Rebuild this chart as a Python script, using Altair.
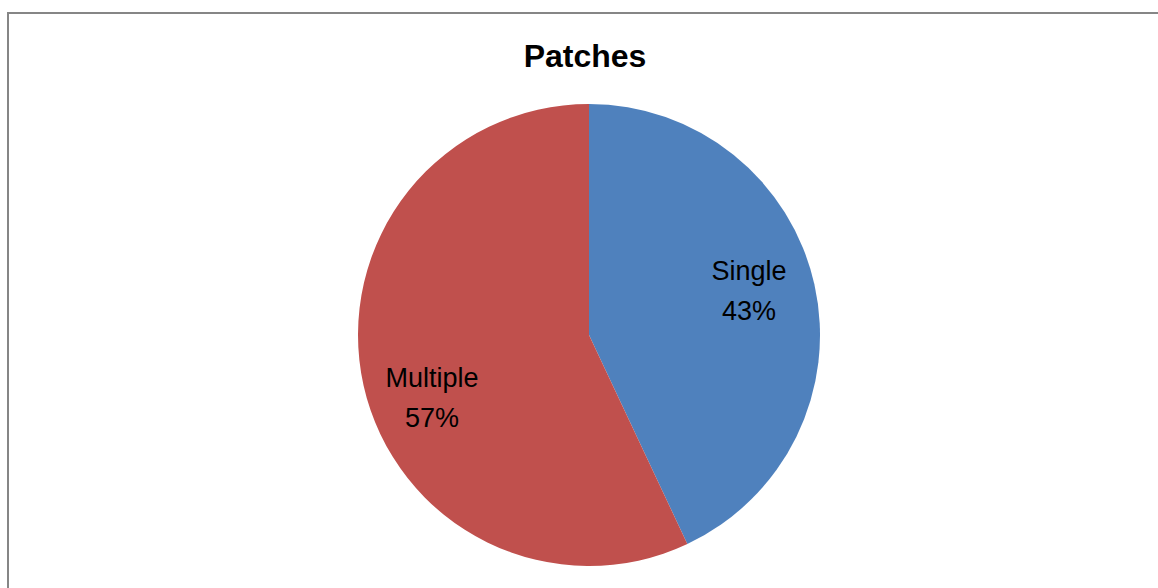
import altair as alt
import pandas as pd

categories = ["Single", "Multiple"]
values = [43, 57]
colors = ["#4F81BD", "#C0504D"]
title_text = "Patches"

df = pd.DataFrame({
    "category": categories,
    "value": values,
    "order": list(range(len(categories))),
    "label": [f"{c}\n{v}%" for c, v in zip(categories, values)],
})

W, H = 1158, 588
CX, CY, R = 589, 335, 231

base = alt.Chart(df).encode(
    theta=alt.Theta("value:Q", stack=True),
    order=alt.Order("order:Q"),
)

pie = base.mark_arc(stroke=None).encode(
    color=alt.Color("category:N", scale=alt.Scale(domain=categories, range=colors), legend=None),
    x=alt.value(CX), y=alt.value(CY), radius=alt.value(R),
)


def label_layer(cat, dx, dy):
    return base.mark_text(
        font="Liberation Sans", fontSize=27, color="#000000",
        lineBreak="\n", lineHeight=40, align="center", baseline="middle",
        dx=dx, dy=dy,
    ).encode(
        text="label:N",
        x=alt.value(CX), y=alt.value(CY), radius=alt.value(167),
        opacity=alt.condition(alt.datum.category == cat, alt.value(1), alt.value(0)),
    )


labels_single = label_layer("Single", -3, -27)
labels_multi = label_layer("Multiple", 6, 8)

title = alt.Chart(pd.DataFrame({"t": [title_text]})).mark_text(
    font="Liberation Sans", fontSize=32, fontWeight="bold", color="#000000",
    align="center", baseline="middle",
).encode(text="t:N", x=alt.value(585), y=alt.value(57))

border_top = alt.Chart(pd.DataFrame({"a": [0]})).mark_rule(color="#868686", strokeWidth=2).encode(
    x=alt.value(7), x2=alt.value(W), y=alt.value(13)
)
border_left = alt.Chart(pd.DataFrame({"a": [0]})).mark_rule(color="#868686", strokeWidth=2).encode(
    x=alt.value(8), y=alt.value(12), y2=alt.value(H)
)

chart = alt.layer(pie, labels_single, labels_multi, title, border_top, border_left).properties(
    width=W, height=H, padding=0, autosize=alt.AutoSizeParams(type="none"),
    background="#FFFFFF",
).configure_view(stroke=None)

chart.save("out.html", embed_options={"renderer": "svg", "actions": False})
